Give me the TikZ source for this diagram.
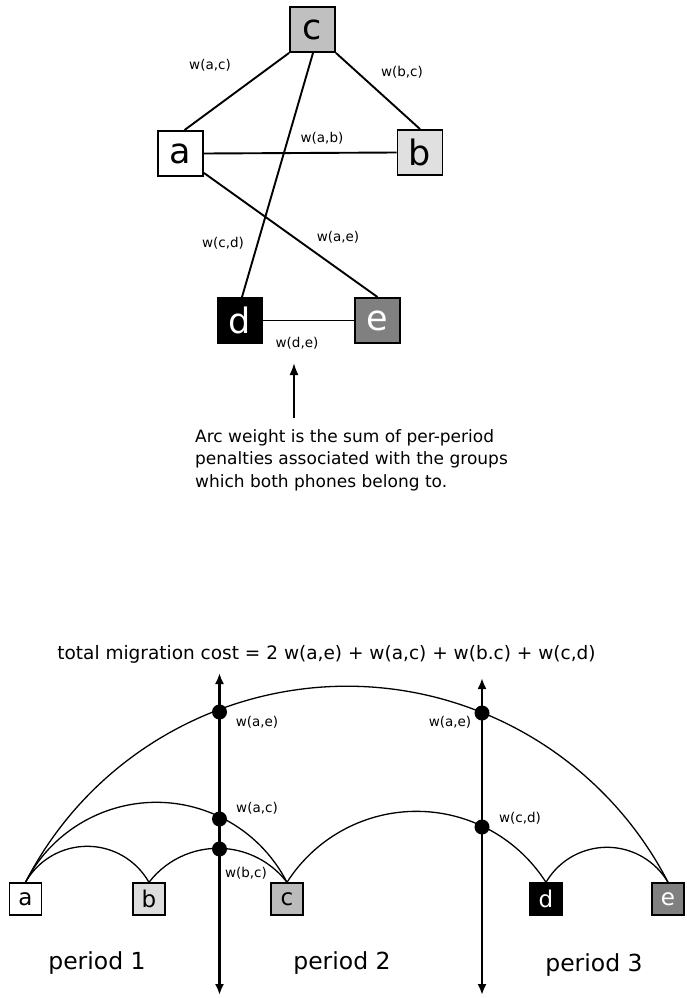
\documentclass[tikz,border=0pt]{standalone}
\usepackage{fontspec}
\setmainfont{DejaVu Sans}
\usetikzlibrary{arrows.meta,calc}
\definecolor{gc}{HTML}{C0C0C0}
\definecolor{gb}{HTML}{E0E0E0}
\definecolor{ge}{HTML}{808080}
\definecolor{gcb}{HTML}{BBBBBB}
\definecolor{gbb}{HTML}{DDDDDD}
\begin{document}
\begin{tikzpicture}[x=1pt,y=1pt,
  bigbox/.style={draw=black,line width=1.9pt,minimum size=45pt,inner sep=0pt,font=\fontsize{35}{35}\selectfont},
  smallbox/.style={draw=black,line width=1.4pt,minimum size=32pt,inner sep=0pt,font=\fontsize{23}{23}\selectfont},
  edge/.style={line width=1.9pt},
  arcedge/.style={line width=1.3pt},
  wlabel/.style={font=\fontsize{13.5}{14}\selectfont,inner sep=0pt},
  plabel/.style={font=\fontsize{23.5}{26}\selectfont,inner sep=0pt},
  vaxis/.style={line width=2.5pt,{Latex[length=11pt,width=9pt]}-{Latex[length=11pt,width=9pt]}},
  cross/.style={circle,fill=black,minimum size=15pt,inner sep=0pt}]
\useasboundingbox (0,0) rectangle (686,-998);

% ---------- top graph ----------
\node[bigbox,fill=gc] (c) at (312.5,-29.5) {c};
\node[bigbox,fill=white] (a) at (180.5,-153.5) {a};
\node[bigbox,fill=gb] (b) at (420,-152.5) {b};
\node[bigbox,fill=black,text=white] (d) at (240,-320.5) {d};
\node[bigbox,fill=ge,text=white] (e) at (377.5,-320.5) {e};

\draw[edge] (c.south west) -- ([xshift=4pt]a.north);
\draw[edge] (c.south east) -- (b.north);
\draw[edge] ([xshift=0.5pt]c.south) -- ([xshift=2pt]d.north);
\draw[edge] (a.east) -- (b.west);
\draw[edge] ([yshift=4pt]a.south east) -- (e.north);
\draw[edge] (d.east) -- (e.west);

\node[wlabel] (lac) at (210,-65) {w(a,c)};
\node[wlabel] (lbc) at (402,-72) {w(b,c)};
\node[wlabel] (lab) at (322,-138) {w(a,b)};
\node[wlabel] (lcd) at (223,-243) {w(c,d)};
\node[wlabel] (lae) at (338,-237) {w(a,e)};
\node[wlabel] (lde) at (297,-343) {w(d,e)};

\coordinate (arrtail) at (294,-418);
\coordinate (arrtip) at (294,-363);
\draw[line width=1.9pt,-{Latex[length=12pt,width=9pt]}] (arrtail) -- (arrtip);
\node[anchor=north west,align=left,inner sep=0pt,font=\fontsize{17}{22.6}\selectfont] (desc) at (195,-429)
  {Arc weight is the sum of per-period\\penalties associated with the groups\\which both phones belong to.};

% ---------- bottom diagram ----------
\node[anchor=base,inner sep=0pt,font=\fontsize{18.5}{20}\selectfont] (title) at (326.5,-659)
  {total migration cost = 2 w(a,e) + w(a,c) + w(b.c) + w(c,d)};

\coordinate (v1top) at (219.5,-673);
\coordinate (v1bot) at (219.5,-995);
\coordinate (v2top) at (482,-678);
\coordinate (v2bot) at (482,-995);

\node[smallbox,fill=white] (ba) at (25.5,-899) {a};
\node[smallbox,fill=gbb] (bb) at (149,-899) {b};
\node[smallbox,fill=gcb] (bc) at (287,-899) {c};
\node[smallbox,fill=black,text=white] (bd) at (546,-899) {d};
\node[smallbox,fill=ge,text=white] (be) at (668,-899) {e};

\draw[arcedge] (ba.north) arc[start angle=152.78,end angle=27.22,radius=361.3];
\draw[arcedge] (ba.north) arc[start angle=150.47,end angle=29.53,radius=70.96];
\draw[arcedge] (ba.north) arc[start angle=152.91,end angle=27.09,radius=146.85];
\draw[arcedge] (bb.north) arc[start angle=142.48,end angle=37.52,radius=87.0];
\draw[arcedge] (bc.north) arc[start angle=147.46,end angle=32.54,radius=153.6];
\draw[arcedge] (bd.north) arc[start angle=149.69,end angle=30.31,radius=70.66];

\draw[vaxis] (v1bot) -- (v1top);
\draw[vaxis] (v2bot) -- (v2top);

\node[cross] (x1) at (219.5,-712) {};
\node[cross] (x2) at (219.5,-819) {};
\node[cross] (x3) at (219.5,-849) {};
\node[cross] (x4) at (482,-713) {};
\node[cross] (x5) at (482,-827) {};

\node[wlabel] (m1) at (257,-722) {w(a,e)};
\node[wlabel] (m2) at (257,-808) {w(a,c)};
\node[wlabel] (m3) at (246,-873) {w(b,c)};
\node[wlabel] (m4) at (450,-722) {w(a,e)};
\node[wlabel] (m5) at (520,-818) {w(c,d)};

\node[plabel] (p1) at (97,-963) {period 1};
\node[plabel] (p2) at (342,-963) {period 2};
\node[plabel] (p3) at (594,-965) {period 3};
\end{tikzpicture}
\end{document}
